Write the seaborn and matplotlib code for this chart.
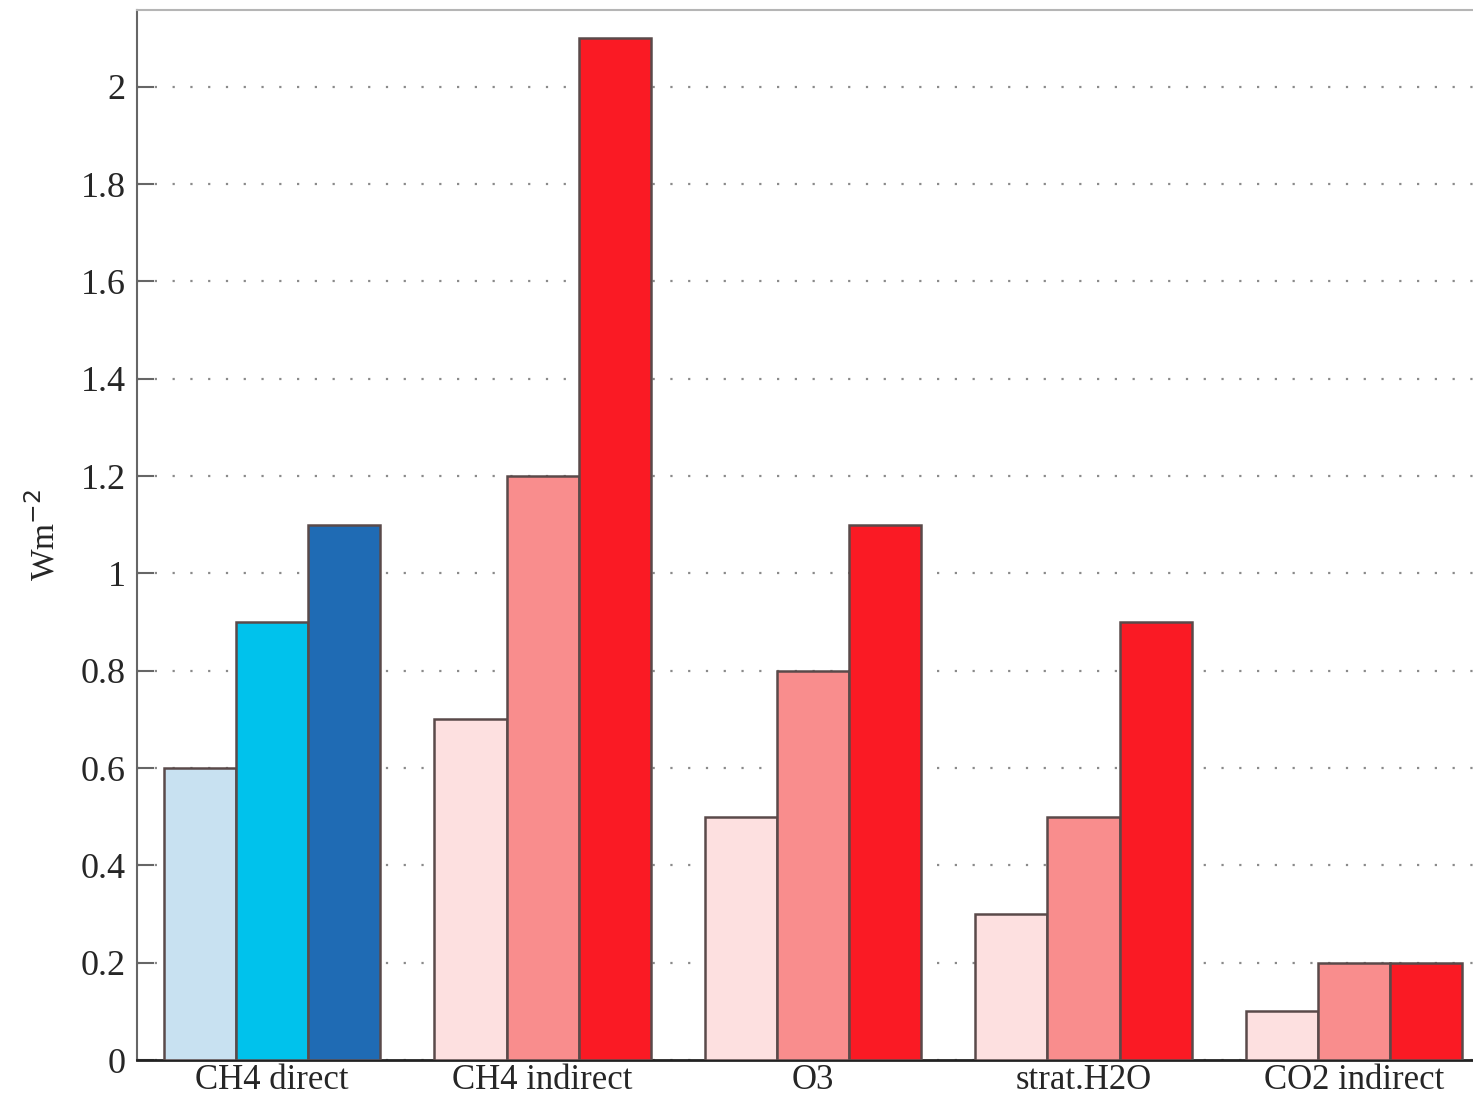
import pandas as pd
import seaborn as sns
import matplotlib.pyplot as plt

# Forcing terms and the three scenario values for each
categories = ['CH4 direct', 'CH4 indirect', 'O3', 'strat.H2O', 'CO2 indirect']
low_values = [0.6, 0.7, 0.5, 0.3, 0.1]
mid_values = [0.9, 1.2, 0.8, 0.5, 0.2]
high_values = [1.1, 2.1, 1.1, 0.9, 0.2]
scenarios = ['low', 'mid', 'high']

blue_colors = ['#c8e1f1', '#00c2ec', '#1f6bb4']
red_colors = ['#fde0e0', '#f98d8d', '#fa1a24']

df = pd.DataFrame({
    'category': categories * 3,
    'scenario': [s for s in scenarios for _ in categories],
    'value': low_values + mid_values + high_values,
})

sns.set_style('white')
plt.rcParams['font.family'] = ['Liberation Serif', 'DejaVu Serif']

fig = plt.figure(figsize=(14.73, 10.98), dpi=100)
ax = fig.add_axes([0.093, 0.0346, 0.907, 0.9563])

sns.barplot(data=df, x='category', y='value', hue='scenario', order=categories,
            hue_order=scenarios, width=0.8, legend=False, ax=ax,
            edgecolor='#5a4a4a', linewidth=1.8, zorder=3)

# colour each bar: blue shades for CH4 direct, red shades for the rest
for i, container in enumerate(ax.containers):
    for j, patch in enumerate(container.patches):
        patch.set_facecolor(blue_colors[i] if j == 0 else red_colors[i])

ax.set_xlim(-0.5, 4.44)
ax.set_ylim(0, 2.158)
ax.set_yticks([0, 0.2, 0.4, 0.6, 0.8, 1, 1.2, 1.4, 1.6, 1.8, 2])
ax.set_yticklabels(['0', '0.2', '0.4', '0.6', '0.8', '1', '1.2', '1.4', '1.6', '1.8', '2'])
ax.yaxis.grid(True, color='#8a8a8a', linestyle=(0, (1, 7)), linewidth=1.6, zorder=0)
ax.set_axisbelow(True)

ax.tick_params(axis='y', left=True, direction='in', length=12, width=1.5, color='#666666',
               labelsize=26, pad=8)
ax.tick_params(axis='x', bottom=False, length=0, labelsize=25, pad=3)

ax.spines['right'].set_visible(False)
ax.spines['top'].set_color('#b5b5b5')
ax.spines['top'].set_linewidth(1.5)
ax.spines['left'].set_color('#666666')
ax.spines['left'].set_linewidth(1.5)
ax.spines['bottom'].set_color('#222222')
ax.spines['bottom'].set_linewidth(2)

ax.set_xlabel('')
ax.set_ylabel('Wm$^{-2}$', fontsize=24, labelpad=14)

fig.savefig('out.png', dpi=100)
